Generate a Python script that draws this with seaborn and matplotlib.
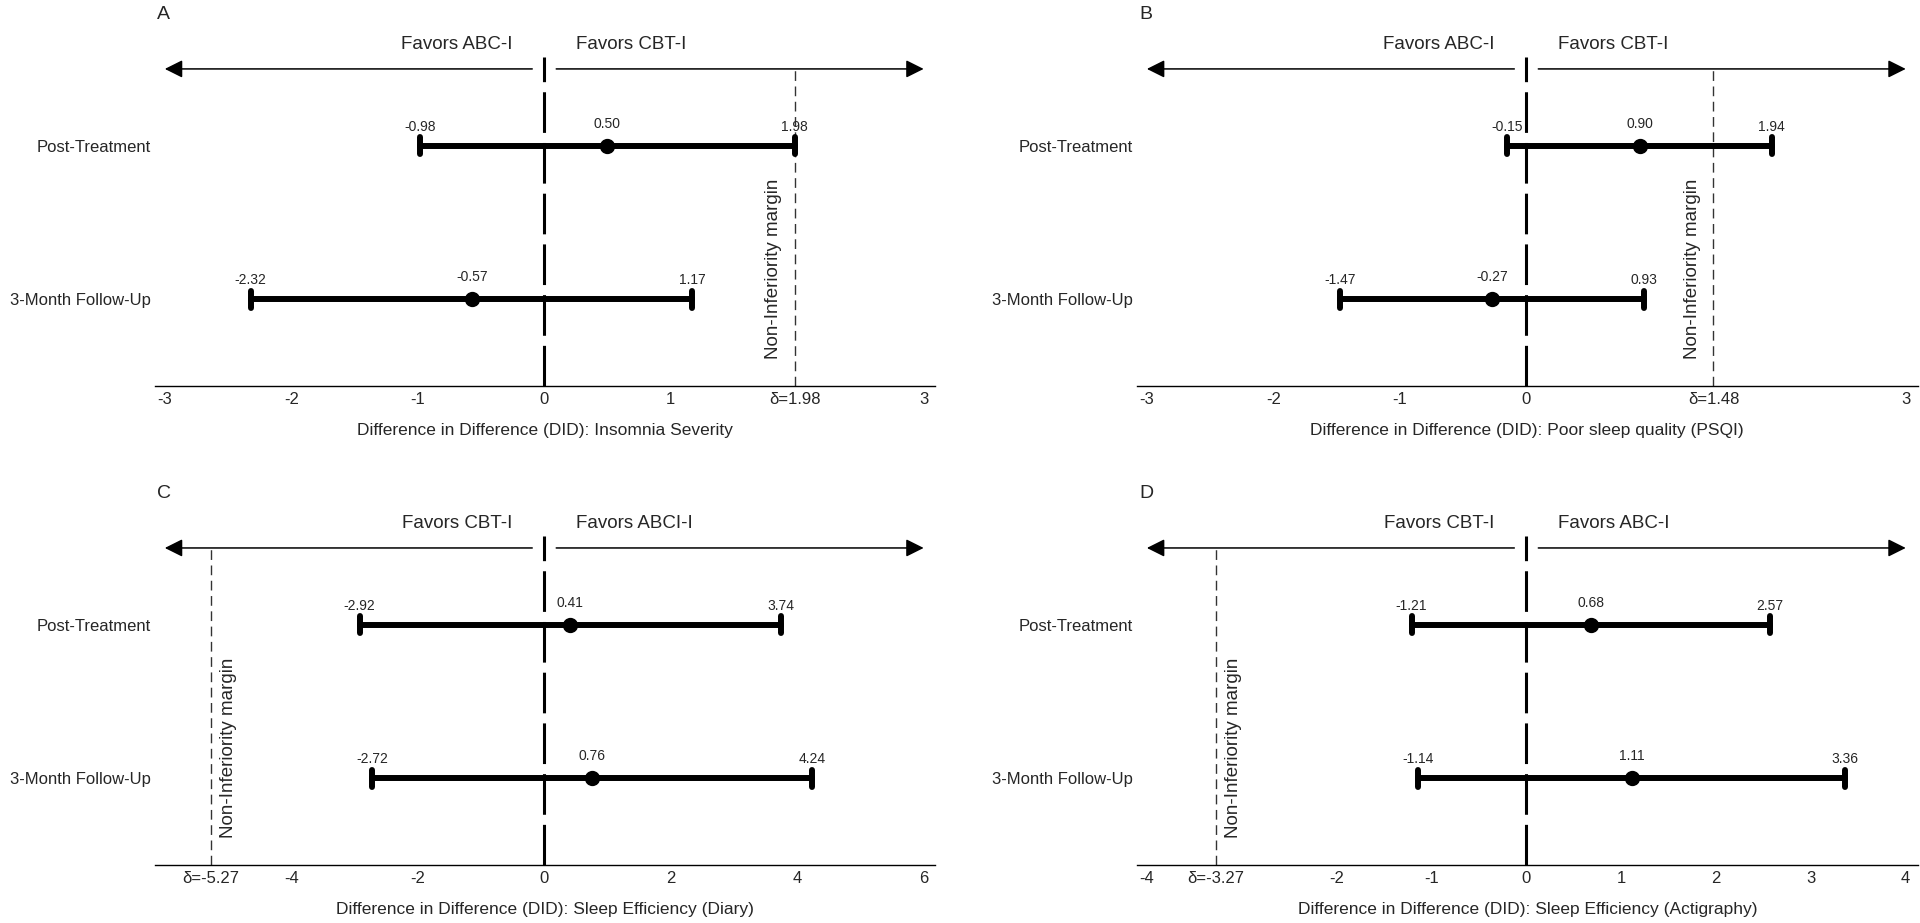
import numpy as np
import pandas as pd
import matplotlib.pyplot as plt
import seaborn as sns

# Values
timepoints = ['Post-Treatment', '3-Month Follow-Up']
panel_letters = ['A', 'B', 'C', 'D']

ci_lower = [[-0.98, -2.32], [-0.15, -1.47], [-2.92, -2.72], [-1.21, -1.14]]
estimates = [[0.50, -0.57], [0.90, -0.27], [0.41, 0.76], [0.68, 1.11]]
ci_upper = [[1.98, 1.17], [1.94, 0.93], [3.74, 4.24], [2.57, 3.36]]

margins = [1.98, 1.48, -5.27, -3.27]
x_ranges = [(-3, 3), (-3, 3), (-6, 6), (-4, 4)]
x_ticks = [[-3, -2, -1, 0, 1, 3],
           [-3, -2, -1, 0, 3],
           [-4, -2, 0, 2, 4, 6],
           [-4, -2, -1, 0, 1, 2, 3, 4]]

favors_left = ['Favors ABC-I', 'Favors ABC-I', 'Favors CBT-I', 'Favors CBT-I']
favors_right = ['Favors CBT-I', 'Favors CBT-I', 'Favors ABCI-I', 'Favors ABC-I']
x_titles = ['Difference in Difference (DID): Insomnia Severity',
            'Difference in Difference (DID): Poor sleep quality (PSQI)',
            'Difference in Difference (DID): Sleep Efficiency (Diary)',
            'Difference in Difference (DID): Sleep Efficiency (Actigraphy)']

sns.set_style('white')
plt.rcParams['font.family'] = ['Liberation Sans', 'DejaVu Sans']

fig = plt.figure(figsize=(19.2, 9.23), dpi=100)
positions = [(0.0807, 0.5818), (0.5922, 0.5818), (0.0807, 0.0628), (0.5922, 0.0628)]
W, H = 0.4065, 0.3565
y_bot, y_top, y_arrow, y_favors = 1.565, -0.578, -0.5, -0.662

for i, (left, bottom) in enumerate(positions):
    ax = fig.add_axes([left, bottom, W, H])

    # three rows per timepoint: median -> estimate, min/max -> CI
    df = pd.DataFrame({
        'timepoint': np.repeat(timepoints, 3),
        'value': [v for k in range(2)
                  for v in (ci_lower[i][k], estimates[i][k], ci_upper[i][k])],
    })
    sns.pointplot(data=df, x='value', y='timepoint', order=timepoints,
                  estimator='median', errorbar=lambda v: (v.min(), v.max()),
                  orient='h', color='black', markers='o', linestyle='none',
                  markersize=9.5, markeredgewidth=1.5, capsize=0.11,
                  err_kws={'linewidth': 4.3}, ax=ax)

    lo, hi = x_ranges[i]
    span = hi - lo
    m = margins[i]

    # zero line
    ax.plot([0, 0], [y_bot, y_top], color='black', lw=2.2,
            dashes=(13.3, 3.3), zorder=1)
    # margin line
    ax.plot([m, m], [y_bot, y_arrow], color='#333333', lw=1,
            dashes=(7, 4), zorder=1)

    # direction arrows
    gap = 0.0158 * span
    for sgn, end in [(-1, lo), (1, hi)]:
        ax.annotate('', xy=(end, y_arrow), xytext=(sgn * gap, y_arrow),
                    arrowprops=dict(arrowstyle='-|>', color='black', lw=1.1,
                                    mutation_scale=27, shrinkA=0, shrinkB=0))
    fgap = 0.042 * span
    ax.text(-fgap, y_favors, favors_left[i], ha='right', va='center', fontsize=13.5)
    ax.text(fgap, y_favors, favors_right[i], ha='left', va='center', fontsize=13.5)

    # non-inferiority label
    if m > 0:
        ax.annotate('Non-Inferiority margin', xy=(m, y_bot), xytext=(-9, 19.5),
                    textcoords='offset points', rotation=90, ha='right',
                    va='bottom', fontsize=13.5)
    else:
        ax.annotate('Non-Inferiority margin', xy=(m, y_bot), xytext=(6.5, 19.5),
                    textcoords='offset points', rotation=90, ha='left',
                    va='bottom', fontsize=13.5)

    # value labels
    for k in range(2):
        for v, off in [(ci_lower[i][k], 10.8), (estimates[i][k], 13), (ci_upper[i][k], 10.8)]:
            ax.annotate(f'{v:.2f}', xy=(v, k), xytext=(0, off),
                        textcoords='offset points', ha='center', va='baseline',
                        fontsize=10)

    ax.set_xlim(lo - 0.013 * span, hi + 0.0155 * span)
    ax.set_ylim(y_bot, y_top)
    ticks = sorted(x_ticks[i] + [m])
    ax.set_xticks(ticks)
    ax.set_xticklabels([f'δ={t:.2f}' if t == m else str(t) for t in ticks])
    ax.tick_params(axis='both', length=0, labelsize=12, pad=3)
    ax.tick_params(axis='x', pad=4)
    ax.set_ylabel('')
    ax.set_xlabel(x_titles[i], fontsize=12.5, labelpad=12)
    for s in ['top', 'right', 'left']:
        ax.spines[s].set_visible(False)
    ax.spines['bottom'].set_color('black')
    ax.spines['bottom'].set_linewidth(1)

    fig.text(left + 0.001, bottom + H + 0.0455, panel_letters[i],
             fontsize=14, va='center')

fig.savefig('out.png', dpi=100)
